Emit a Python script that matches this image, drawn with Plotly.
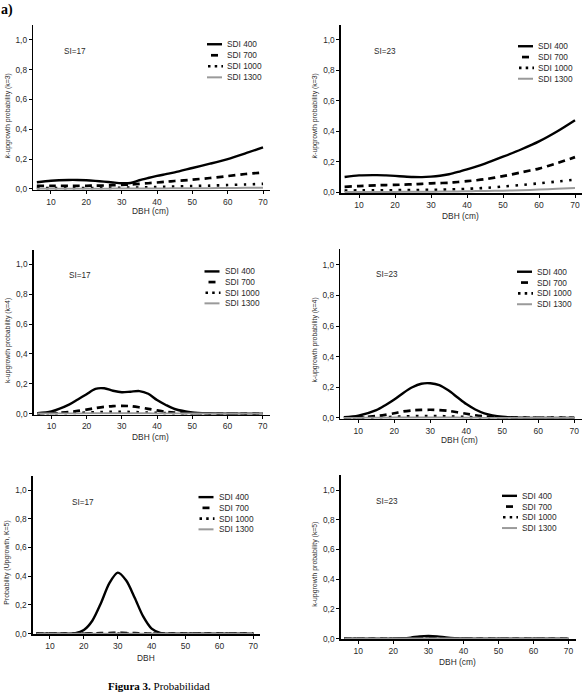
import plotly.graph_objects as go

W, H = 585, 696

# ---------------- data ----------------
DBH = [6, 10, 15, 17.5, 20, 22.5, 25, 27.5, 30, 32.5, 35, 37.5, 40, 42.5, 45, 50, 55, 60, 65, 70]
SERIES = ["SDI 400", "SDI 700", "SDI 1000", "SDI 1300"]
X_TICKS = [10, 20, 30, 40, 50, 60, 70]
Y_TICKS = [0, 0.2, 0.4, 0.6, 0.8, 1.0]

# SI=17, k=3
si17_k3_sdi400 = [0.045, 0.055, 0.060, 0.060, 0.058, 0.054, 0.049, 0.043, 0.038, 0.040, 0.058, 0.073, 0.087, 0.099, 0.111, 0.140, 0.169, 0.200, 0.238, 0.278]
si17_k3_sdi700 = [0.020, 0.020, 0.020, 0.021, 0.021, 0.022, 0.023, 0.025, 0.027, 0.030, 0.034, 0.038, 0.043, 0.048, 0.053, 0.062, 0.073, 0.086, 0.100, 0.110]
si17_k3_sdi1000 = [0.005, 0.005, 0.005, 0.006, 0.006, 0.006, 0.007, 0.007, 0.008, 0.009, 0.010, 0.011, 0.013, 0.014, 0.016, 0.019, 0.022, 0.026, 0.030, 0.034]
si17_k3_sdi1300 = [0.001, 0.001, 0.001, 0.001, 0.001, 0.001, 0.001, 0.002, 0.002, 0.002, 0.002, 0.003, 0.003, 0.003, 0.004, 0.004, 0.005, 0.006, 0.007, 0.008]

# SI=23, k=3
si23_k3_sdi400 = [0.100, 0.110, 0.112, 0.110, 0.107, 0.103, 0.100, 0.099, 0.102, 0.108, 0.118, 0.133, 0.150, 0.168, 0.188, 0.233, 0.280, 0.333, 0.398, 0.472]
si23_k3_sdi700 = [0.035, 0.040, 0.045, 0.047, 0.048, 0.050, 0.052, 0.055, 0.058, 0.060, 0.062, 0.067, 0.072, 0.078, 0.085, 0.105, 0.130, 0.155, 0.190, 0.230]
si23_k3_sdi1000 = [0.010, 0.012, 0.012, 0.013, 0.013, 0.014, 0.014, 0.015, 0.015, 0.016, 0.018, 0.020, 0.022, 0.025, 0.028, 0.037, 0.047, 0.058, 0.070, 0.082]
si23_k3_sdi1300 = [0.002, 0.002, 0.002, 0.002, 0.002, 0.003, 0.003, 0.003, 0.003, 0.004, 0.004, 0.005, 0.006, 0.007, 0.008, 0.010, 0.013, 0.017, 0.022, 0.028]

# SI=17, k=4
si17_k4_sdi400 = [0.003, 0.015, 0.060, 0.095, 0.130, 0.166, 0.170, 0.153, 0.143, 0.147, 0.151, 0.133, 0.091, 0.058, 0.031, 0.008, 0.002, 0.000, 0.000, 0.000]
si17_k4_sdi700 = [0.000, 0.003, 0.010, 0.018, 0.027, 0.037, 0.045, 0.050, 0.052, 0.050, 0.042, 0.032, 0.022, 0.012, 0.006, 0.001, 0.000, 0.000, 0.000, 0.000]
si17_k4_sdi1000 = [0.000, 0.001, 0.003, 0.005, 0.007, 0.009, 0.011, 0.012, 0.012, 0.011, 0.009, 0.007, 0.005, 0.003, 0.001, 0.000, 0.000, 0.000, 0.000, 0.000]
si17_k4_sdi1300 = [0.000, 0.000, 0.001, 0.001, 0.002, 0.002, 0.003, 0.003, 0.003, 0.003, 0.002, 0.002, 0.001, 0.001, 0.000, 0.000, 0.000, 0.000, 0.000, 0.000]

# SI=23, k=4
si23_k4_sdi400 = [0.004, 0.014, 0.050, 0.083, 0.120, 0.163, 0.200, 0.223, 0.226, 0.214, 0.180, 0.135, 0.090, 0.055, 0.030, 0.007, 0.001, 0.000, 0.000, 0.000]
si23_k4_sdi700 = [0.000, 0.003, 0.012, 0.020, 0.030, 0.042, 0.049, 0.052, 0.053, 0.051, 0.046, 0.037, 0.027, 0.017, 0.010, 0.003, 0.000, 0.000, 0.000, 0.000]
si23_k4_sdi1000 = [0.000, 0.001, 0.003, 0.005, 0.007, 0.009, 0.011, 0.012, 0.012, 0.012, 0.010, 0.008, 0.006, 0.004, 0.002, 0.000, 0.000, 0.000, 0.000, 0.000]
si23_k4_sdi1300 = [0.000, 0.000, 0.001, 0.001, 0.002, 0.002, 0.003, 0.003, 0.003, 0.003, 0.002, 0.002, 0.001, 0.001, 0.000, 0.000, 0.000, 0.000, 0.000, 0.000]

# SI=17, k=5
si17_k5_sdi400 = [0.000, 0.000, 0.000, 0.003, 0.025, 0.090, 0.210, 0.350, 0.425, 0.370, 0.250, 0.120, 0.035, 0.006, 0.000, 0.000, 0.000, 0.000, 0.000, 0.000]
si17_k5_sdi700 = [0.000, 0.000, 0.000, 0.000, 0.001, 0.002, 0.003, 0.004, 0.005, 0.004, 0.003, 0.001, 0.000, 0.000, 0.000, 0.000, 0.000, 0.000, 0.000, 0.000]
si17_k5_sdi1000 = [0.000, 0.000, 0.000, 0.000, 0.000, 0.000, 0.001, 0.001, 0.001, 0.001, 0.001, 0.000, 0.000, 0.000, 0.000, 0.000, 0.000, 0.000, 0.000, 0.000]
si17_k5_sdi1300 = [0.000] * 20

# SI=23, k=5
si23_k5_sdi400 = [0.000, 0.000, 0.000, 0.000, 0.000, 0.002, 0.007, 0.015, 0.018, 0.015, 0.008, 0.003, 0.001, 0.000, 0.000, 0.000, 0.000, 0.000, 0.000, 0.000]
si23_k5_sdi700 = [0.000, 0.000, 0.000, 0.000, 0.000, 0.001, 0.002, 0.003, 0.003, 0.003, 0.002, 0.001, 0.000, 0.000, 0.000, 0.000, 0.000, 0.000, 0.000, 0.000]
si23_k5_sdi1000 = [0.000] * 20
si23_k5_sdi1300 = [0.000] * 20

PANEL_DATA = [
    [si17_k3_sdi400, si17_k3_sdi700, si17_k3_sdi1000, si17_k3_sdi1300],
    [si23_k3_sdi400, si23_k3_sdi700, si23_k3_sdi1000, si23_k3_sdi1300],
    [si17_k4_sdi400, si17_k4_sdi700, si17_k4_sdi1000, si17_k4_sdi1300],
    [si23_k4_sdi400, si23_k4_sdi700, si23_k4_sdi1000, si23_k4_sdi1300],
    [si17_k5_sdi400, si17_k5_sdi700, si17_k5_sdi1000, si17_k5_sdi1300],
    [si23_k5_sdi400, si23_k5_sdi700, si23_k5_sdi1000, si23_k5_sdi1300],
]
SI_LABELS = ["SI=17", "SI=23", "SI=17", "SI=23", "SI=17", "SI=23"]
Y_TITLES = [
    "<i>k</i>-upgrowth probability (k=3)",
    "<i>k</i>-upgrowth probability (k=3)",
    "k-upgrowth probability (k=4)",
    "k-upgrowth probability (k=4)",
    "Probability (Upgrowth, K=5)",
    "k-upgrowth probability (k=5)",
]
X_TITLES = ["DBH (cm)", "DBH (cm)", "DBH (cm)", "DBH (cm)", "DBH", "DBH (cm)"]

# ---------------- layout (pixel specs) ----------------
XR = [5, 72]
YR = [-0.006, 1.1]
PANELS = [
    dict(xl=33.3, xr=270.1, zy=190.0, sy=150.0, ytx=8, yty=117, xty=212, six=75, siy=52, lgx=207, lgy=44.5),
    dict(xl=341.0, xr=582.2, zy=193.3, sy=153.3, ytx=315, yty=117, xty=217.5, six=385, siy=52, lgx=518, lgy=46.5),
    dict(xl=33.8, xr=269.7, zy=416.0, sy=150.0, ytx=8, yty=343, xty=440, six=80, siy=277.5, lgx=204.5, lgy=273),
    dict(xl=340.3, xr=581.5, zy=420.3, sy=154.0, ytx=315, yty=342.5, xty=443, six=387, siy=276.5, lgx=517, lgy=273.3),
    dict(xl=33.0, xr=260.1, zy=637.3, sy=144.3, ytx=7.5, yty=566.5, xty=661.5, six=83, siy=505, lgx=198.5, lgy=500),
    dict(xl=340.8, xr=575.5, zy=642.3, sy=149.3, ytx=315, yty=568, xty=666, six=387, siy=504.7, lgx=502, lgy=498.7),
]
LEG_STEP = [11.1, 10.9, 10.7, 10.9, 10.8, 10.8]

STYLES = [
    dict(color="#000000", width=2.4, dash="solid"),
    dict(color="#000000", width=2.7, dash="7px,5px"),
    dict(color="#000000", width=2.6, dash="2.5px,6.5px"),
    dict(color="#9a9a9a", width=2.0, dash="solid"),
]

FONT = "Liberation Sans, Arial, sans-serif"
TXT = "#2a2a2a"

def px(x):
    return x / W

def py(y):
    return 1 - y / H

fig = go.Figure()
annotations = []
shapes = []

for i, p in enumerate(PANELS):
    n = i + 1
    xa = "x" if n == 1 else f"x{n}"
    ya = "y" if n == 1 else f"y{n}"
    for s, name in enumerate(SERIES):
        st = STYLES[s]
        fig.add_trace(go.Scatter(
            x=DBH, y=PANEL_DATA[i][s], mode="lines", name=name,
            line=dict(color=st["color"], width=st["width"], dash=st["dash"], shape="spline", smoothing=0.8),
            xaxis=xa, yaxis=ya, showlegend=False, hoverinfo="skip",
        ))
    bottom = p["zy"] - YR[0] * p["sy"]
    top = p["zy"] - YR[1] * p["sy"]
    xkey = "xaxis" if n == 1 else f"xaxis{n}"
    ykey = "yaxis" if n == 1 else f"yaxis{n}"
    fig.layout[xkey] = dict(
        domain=[px(p["xl"]), px(p["xr"])], range=XR, anchor=ya,
        tickmode="array", tickvals=X_TICKS, ticks="outside", ticklen=3, tickwidth=1,
        tickcolor="#000", showline=True, linecolor="#000", linewidth=1.6,
        showgrid=False, zeroline=False, tickfont=dict(family=FONT, size=8.5, color=TXT),
    )
    fig.layout[ykey] = dict(
        domain=[py(bottom), py(top)], range=YR, anchor=xa,
        tickmode="array", tickvals=Y_TICKS, tickformat=".1f", ticks="outside", ticklen=3,
        tickwidth=1, tickcolor="#000", showline=True, linecolor="#000", linewidth=1.6,
        showgrid=False, zeroline=False, tickfont=dict(family=FONT, size=8.3, color=TXT),
    )
    annotations.append(dict(text=X_TITLES[i], x=px((p["xl"] + p["xr"]) / 2 - 1), y=py(p["xty"]),
                            xref="paper", yref="paper", showarrow=False, xanchor="center", yanchor="middle",
                            font=dict(family=FONT, size=8.4, color=TXT)))
    annotations.append(dict(text=Y_TITLES[i], x=px(p["ytx"]), y=py(p["yty"]), textangle=-90,
                            xref="paper", yref="paper", showarrow=False, xanchor="center", yanchor="middle",
                            font=dict(family=FONT, size=6.9, color=TXT)))
    annotations.append(dict(text=SI_LABELS[i], x=px(p["six"]), y=py(p["siy"]),
                            xref="paper", yref="paper", showarrow=False, xanchor="center", yanchor="middle",
                            font=dict(family=FONT, size=8.2, color=TXT)))
    for s, name in enumerate(SERIES):
        ry = p["lgy"] + s * LEG_STEP[i]
        st = STYLES[s]
        if s == 1:
            x0, x1, dash = p["lgx"] + 4, p["lgx"] + 11, "solid"
        elif s == 2:
            x0, x1, dash = p["lgx"] + 1, p["lgx"] + 16, "2.5px,4.2px"
        else:
            x0, x1, dash = p["lgx"], p["lgx"] + 15, "solid"
        shapes.append(dict(type="line", xref="paper", yref="paper", x0=px(x0), x1=px(x1), y0=py(ry), y1=py(ry),
                           line=dict(color=st["color"], width=st["width"], dash=dash)))
        annotations.append(dict(text=name, x=px(p["lgx"] + 18), y=py(ry), xref="paper", yref="paper",
                                showarrow=False, xanchor="left", yanchor="middle",
                                font=dict(family=FONT, size=8.3, color=TXT)))

annotations.append(dict(text="<b>a)</b>", x=px(-1), y=py(10), xref="paper", yref="paper", showarrow=False,
                        xanchor="left", yanchor="middle",
                        font=dict(family="Liberation Serif, Times New Roman, serif", size=14, color="#000")))
annotations.append(dict(text="<b>Figura 3.</b> Probabilidad", x=px(106), y=py(682), xref="paper", yref="paper",
                        showarrow=False, xanchor="left", yanchor="top",
                        font=dict(family="Liberation Serif, Times New Roman, serif", size=11, color="#000")))

fig.update_layout(
    width=W, height=H, margin=dict(l=0, r=0, t=0, b=0),
    paper_bgcolor="white", plot_bgcolor="white",
    separators=",.", showlegend=False,
    annotations=annotations, shapes=shapes,
)

fig.write_html("out.html", config={"displayModeBar": False, "staticPlot": True},
               post_script="document.body.style.margin='0px';document.body.style.padding='0px';")
